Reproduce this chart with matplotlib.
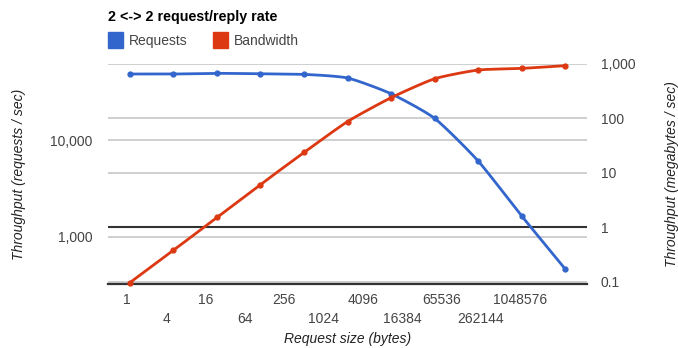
import numpy as np
import matplotlib
matplotlib.use("Agg")
import matplotlib.pyplot as plt
from matplotlib.patches import Rectangle
from matplotlib.transforms import blended_transform_factory

plt.rcParams['font.family'] = ['Liberation Sans', 'DejaVu Sans']

sizes = ["1", "4", "16", "64", "256", "1024", "4096", "16384", "65536", "262144", "1048576"]
requests = [48700, 48700, 49500, 49000, 48300, 44300, 30400, 16900, 6100, 1640, 462]
bandwidth = [0.097, 0.38, 1.52, 6.1, 23.6, 87, 238, 530, 765, 820, 920]
left_ticks = [1000, 10000]
left_labels = ["1,000", "10,000"]
right_ticks = [0.1, 1, 10, 100, 1000]
right_labels = ["0.1", "1", "10", "100", "1,000"]

BLUE = "#3366CC"
RED = "#DC3912"
GRID = "#CCCCCC"
TXT = "#444444"

W, H = 678, 348
fig = plt.figure(figsize=(W / 100, H / 100), dpi=100)
L, R, T, B = 108, 587, 63.7, 284
ax = fig.add_axes([L / W, 1 - B / H, (R - L) / W, (B - T) / H])
ax2 = ax.twinx()

n = len(sizes)
x = np.arange(n)


def smooth(xs, ys, steps=20):
    xs = np.asarray(xs, float)
    ys = np.asarray(ys, float)
    px = np.concatenate([[2 * xs[0] - xs[1]], xs, [2 * xs[-1] - xs[-2]]])
    py = np.concatenate([[2 * ys[0] - ys[1]], ys, [2 * ys[-1] - ys[-2]]])
    ox, oy = [], []
    for i in range(1, len(px) - 2):
        t = np.linspace(0, 1, steps, endpoint=False)
        for arr, out in ((px, ox), (py, oy)):
            p0, p1, p2, p3 = arr[i - 1], arr[i], arr[i + 1], arr[i + 2]
            m1 = (p2 - p0) / 2 * 0.6
            m2 = (p3 - p1) / 2 * 0.6
            h00 = 2 * t**3 - 3 * t**2 + 1
            h10 = t**3 - 2 * t**2 + t
            h01 = -2 * t**3 + 3 * t**2
            h11 = t**3 - t**2
            out.extend(h00 * p1 + h10 * m1 + h01 * p2 + h11 * m2)
    ox.append(xs[-1])
    oy.append(ys[-1])
    return np.array(ox), np.array(oy)


ax.set_yscale('log')
ax2.set_yscale('log')
ax.set_xlim(-0.5, n - 0.5)
ax.set_ylim(323, 62300)
ax2.set_ylim(0.0919, 1000)

# gridlines (all drawn in the lower axes so series stay on top)
for v in left_ticks:
    ax.axhline(v, color=GRID, lw=1.3, zorder=0)
rtrans = blended_transform_factory(ax.transAxes, ax2.transData)
for v in right_ticks:
    ax.plot([0, 1], [v, v], transform=rtrans,
            color="#333333" if v == 1 else GRID, lw=1.5 if v == 1 else 1.3, zorder=0.5)
ax.axhline(323, color="#333333", lw=1.6, zorder=1, clip_on=False)

sx, sy = smooth(x, np.log10(requests))
ax.plot(sx, 10**sy, color=BLUE, lw=2, zorder=3, solid_capstyle='round')
ax.plot(x, requests, 'o', color=BLUE, ms=3.5, zorder=4)
bx, by = smooth(x, np.log10(bandwidth))
ax2.plot(bx, 10**by, color=RED, lw=2, zorder=3, solid_capstyle='round')
ax2.plot(x, bandwidth, 'o', color=RED, ms=3.5, zorder=4, clip_on=False)

for a in (ax, ax2):
    for s in a.spines.values():
        s.set_visible(False)
    a.tick_params(length=0)

ax.set_yticks(left_ticks)
ax.set_yticklabels(left_labels, fontsize=10, color=TXT)
ax.tick_params(axis='y', pad=11)
ax2.set_yticks(right_ticks)
ax2.set_yticklabels(right_labels, fontsize=10, color=TXT)
ax2.tick_params(axis='y', pad=10)
ax2.yaxis.set_minor_locator(matplotlib.ticker.NullLocator())
ax.yaxis.set_minor_locator(matplotlib.ticker.NullLocator())

# category labels are laid out slightly compressed relative to the points (as in reference)
ax.set_xticks([])
step = (R - L) / n
label_pos = (127 - L) / step - 0.5 + x * (39.3 / step)
xtrans = blended_transform_factory(ax.transData, fig.transFigure)
for i, (p, s) in enumerate(zip(label_pos, sizes)):
    ypix = 300.5 if i % 2 == 0 else 319
    ax.text(p, 1 - ypix / H, s, transform=xtrans, ha='center', va='center',
            fontsize=10, color=TXT)

fig.text(347.5 / W, 1 - 339.5 / H, "Request size (bytes)", ha='center', va='center',
         fontsize=10, style='italic', color="#222222")
fig.text(19 / W, 1 - 174 / H, "Throughput (requests / sec)", ha='center', va='center',
         rotation=90, fontsize=10, style='italic', color="#222222")
fig.text(672 / W, 1 - 174 / H, "Throughput (megabytes / sec)", ha='center', va='center',
         rotation=90, fontsize=10, style='italic', color="#222222")

fig.text(108 / W, 1 - 17.5 / H, "2 <-> 2 request/reply rate", ha='left', va='center',
         fontsize=10.3, fontweight='bold', color="#000000")
fig.patches.append(Rectangle((108 / W, 1 - 47.5 / H), 15 / W, 15 / H, transform=fig.transFigure,
                             color=BLUE, figure=fig))
fig.text(129 / W, 1 - 41 / H, "Requests", ha='left', va='center', fontsize=10, color=TXT)
fig.patches.append(Rectangle((213 / W, 1 - 47.5 / H), 15 / W, 15 / H, transform=fig.transFigure,
                             color=RED, figure=fig))
fig.text(234 / W, 1 - 41 / H, "Bandwidth", ha='left', va='center', fontsize=10, color=TXT)

fig.savefig("out.png", dpi=100)
